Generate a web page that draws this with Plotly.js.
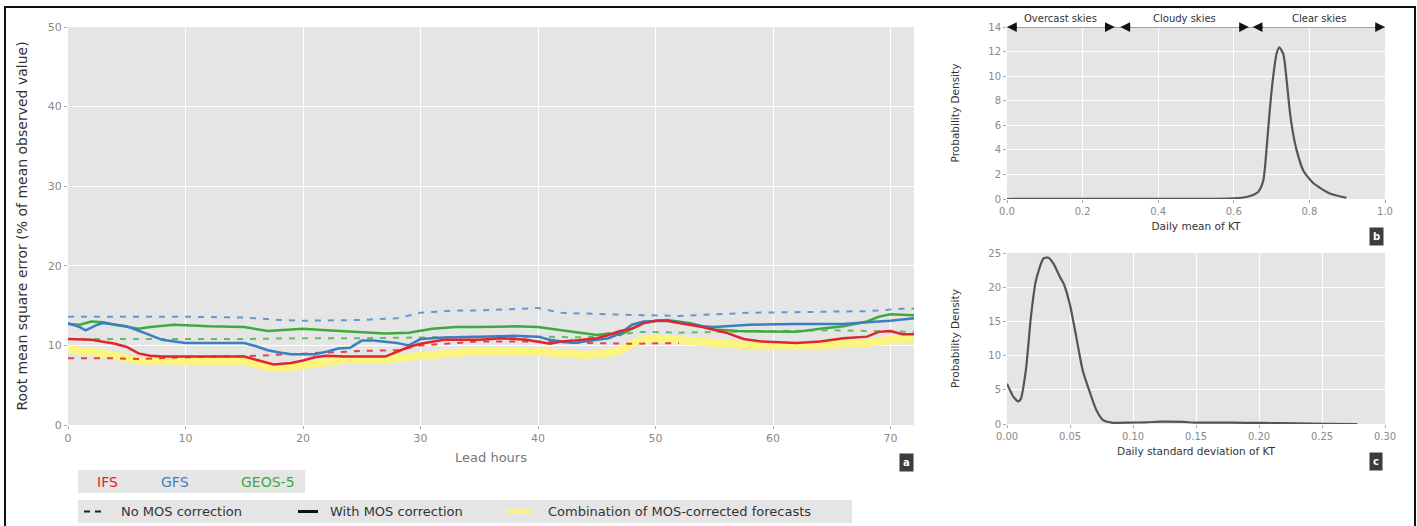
<!DOCTYPE html>
<html>
<head>
<meta charset="utf-8">
<script src="https://cdn.plot.ly/plotly-3.0.1.min.js"></script>
<style>html,body{margin:0;padding:0;background:#fff;}#chart{width:1417px;height:526px;}</style>
</head>
<body>
<div id="chart"></div>
<script>
// ---- Panel a: RMSE vs lead hours ----
const ifsMosHours = [0,2,4,5,6,7,8,12,15,16,17.5,19,20,21,22,23.5,25,27,28,29,30,32,35,37,39,41,42,43,45,46,47,48,49,50,51,52,54,56,57.5,59,62,64,66,68,69,70,71,72];
const ifsMos      = [10.8,10.7,10.2,9.8,9.0,8.7,8.6,8.6,8.6,8.2,7.6,7.8,8.1,8.5,8.7,8.6,8.6,8.6,9.2,9.8,10.2,10.7,10.7,10.9,10.7,10.2,10.5,10.6,10.9,11.3,11.8,12.1,12.8,13.1,13.1,12.8,12.3,11.6,10.8,10.5,10.3,10.5,10.9,11.1,11.7,11.8,11.4,11.4];
const ifsRawHours = [0,3,6,10,16,20,25,28,30,35,40,44,48,52];
const ifsRaw      = [8.4,8.4,8.3,8.5,8.7,9.0,9.3,9.4,10.0,10.5,10.5,10.3,10.2,10.3];

const gfsMosHours = [0,1,1.5,2.5,3,5,7,8,10,15,16,17,18,19,21,22,23,24,25,26,28,29,30,32,35,38,40,41,43,45,46,47,48,49,51,52,54,55,58,62,66,68,70,72];
const gfsMos      = [12.8,12.3,11.9,12.6,12.8,12.4,11.3,10.7,10.3,10.3,9.9,9.4,9.1,8.9,8.9,9.2,9.6,9.7,10.6,10.6,10.3,10.0,10.8,11.0,11.1,11.2,11.1,10.7,10.3,10.7,10.9,11.5,12.6,13.0,13.1,12.9,12.4,12.3,12.6,12.7,12.7,12.9,13.1,13.4];
const gfsRawHours = [0,5,10,15,18,20,25,28,30,33,35,40,42,46,52,58,63,68,71,72];
const gfsRaw      = [13.6,13.6,13.6,13.5,13.2,13.1,13.2,13.4,14.1,14.4,14.4,14.7,14.1,13.9,13.7,14.1,14.2,14.3,14.6,14.6];

const geosMosHours = [0,1,2,3,4,6,7,9,12,15,17,19,20,22,25,27,29,31,33,35,38,40,42,44,45,46,47,48,49,50,51,53,55,57,60,62,64,66,68,69,70,72];
const geosMos      = [12.7,12.6,13.0,12.9,12.6,12.1,12.3,12.6,12.4,12.3,11.8,12.0,12.1,11.9,11.7,11.5,11.6,12.1,12.3,12.3,12.4,12.3,11.9,11.5,11.3,11.5,11.3,12.1,12.8,13.1,13.2,12.8,12.0,11.8,11.7,11.7,12.1,12.4,13.0,13.6,13.9,13.8];
const geosRawHours = [0,5,10,15,20,25,30,35,40,44,47,49,52,55,60,65,70,72];
const geosRaw      = [10.8,10.8,10.8,10.8,10.9,10.9,11.0,11.1,11.1,11.0,11.4,11.7,11.6,11.7,11.8,11.9,11.7,11.7];

const comboHours = [0,3,6,10,15,17,18,20,22,24,27,30,33,35,40,42,44,46,47,48,49,50,52,54,56,58,62,64,66,68,70,72];
const combo      = [9.5,9.0,8.1,8.1,8.0,7.3,7.1,7.5,8.0,8.3,8.3,8.7,9.2,9.3,9.2,8.9,8.8,9.0,9.4,10.2,10.7,10.9,10.7,10.5,10.3,10.0,9.9,10.0,10.2,10.3,10.7,10.9];

// ---- Panel b: density of daily mean KT ----
const ktMean    = [0,0.1,0.2,0.3,0.4,0.5,0.55,0.6,0.62,0.643,0.665,0.678,0.687,0.695,0.704,0.713,0.72,0.731,0.74,0.748,0.757,0.766,0.784,0.81,0.854,0.898];
const ktMeanPdf = [0,0.01,0.01,0.01,0.01,0.01,0.02,0.05,0.1,0.25,0.6,1.5,4.2,7.2,9.9,11.8,12.35,11.8,9.6,7.2,5.3,4.0,2.3,1.3,0.45,0.1];

// ---- Panel c: density of daily std of KT ----
const ktStd    = [0,0.005,0.009,0.011,0.015,0.019,0.023,0.029,0.033,0.037,0.042,0.045,0.05,0.055,0.06,0.066,0.071,0.076,0.083,0.097,0.11,0.124,0.14,0.15,0.177,0.203,0.23,0.255,0.278];
const ktStdPdf = [5.9,4.0,3.3,3.7,7.9,15.7,21.0,24.2,24.3,23.4,21.5,20.5,17.4,12.7,7.9,4.5,2.0,0.6,0.2,0.2,0.25,0.35,0.3,0.2,0.2,0.15,0.08,0.03,0.0];

const skyLabels = ['Overcast skies','Cloudy skies','Clear skies'];
const skyRanges = [[0,0.285],[0.30,0.64],[0.65,1.0]];
const modelNames = ['IFS','GFS','GEOS-5'];
const styleNames = ['No MOS correction','With MOS correction','Combination of MOS-corrected forecasts'];

const RED='#e0262b', BLUE='#3a7fc4', GREEN='#3daa3d', YELLOW='#fbf47e';
const W=1417, H=526;
const px = x => x/W, py = y => 1 - y/H;

const traces = [
  {x:comboHours, y:combo, mode:'lines', line:{color:YELLOW, width:8}, xaxis:'x', yaxis:'y'},
  {x:geosRawHours, y:geosRaw, mode:'lines', line:{color:GREEN, width:2, dash:'6px,7px'}, opacity:0.75, xaxis:'x', yaxis:'y'},
  {x:gfsRawHours, y:gfsRaw, mode:'lines', line:{color:BLUE, width:2, dash:'6px,7px'}, opacity:0.75, xaxis:'x', yaxis:'y'},
  {x:ifsRawHours, y:ifsRaw, mode:'lines', line:{color:RED, width:2, dash:'6px,7px'}, opacity:0.85, xaxis:'x', yaxis:'y'},
  {x:geosMosHours, y:geosMos, mode:'lines', line:{color:GREEN, width:2.5}, xaxis:'x', yaxis:'y'},
  {x:gfsMosHours, y:gfsMos, mode:'lines', line:{color:BLUE, width:2.5}, xaxis:'x', yaxis:'y'},
  {x:ifsMosHours, y:ifsMos, mode:'lines', line:{color:RED, width:2.5}, xaxis:'x', yaxis:'y'},
  {x:ktMean, y:ktMeanPdf, mode:'lines', line:{color:'#555', width:2.2, shape:'spline', smoothing:0.6}, xaxis:'x2', yaxis:'y2'},
  {x:ktStd, y:ktStdPdf, mode:'lines', line:{color:'#555', width:2.2, shape:'spline', smoothing:0.6}, xaxis:'x3', yaxis:'y3'}
];

const tickFont = {family:'DejaVu Sans', size:11, color:'#8a8a8a'};
const smallTick = {family:'DejaVu Sans', size:10, color:'#8a8a8a'};
const baseAxis = {showgrid:true, gridcolor:'#ffffff', gridwidth:1, zeroline:false, showline:false,
                  ticks:'outside', ticklen:3, tickcolor:'#aaa', fixedrange:true};

const layout = {
  width:W, height:H, margin:{l:0,r:0,t:0,b:0},
  paper_bgcolor:'#ffffff', plot_bgcolor:'#e5e5e5', showlegend:false,
  font:{family:'DejaVu Sans', color:'#444'},
  xaxis:Object.assign({}, baseAxis, {domain:[px(68),px(914)], range:[0,72], tickvals:[0,10,20,30,40,50,60,70], tickfont:tickFont,
        title:{text:'Lead hours', font:{family:'DejaVu Sans', size:13, color:'#777'}, standoff:8}, anchor:'y'}),
  yaxis:Object.assign({}, baseAxis, {domain:[py(425),py(27)], range:[0,50], tickvals:[0,10,20,30,40,50], tickfont:tickFont,
        title:{text:'Root mean square error (% of mean observed value)', font:{family:'DejaVu Sans', size:14, color:'#333'}, standoff:16}, anchor:'x'}),
  xaxis2:Object.assign({}, baseAxis, {domain:[px(1007),px(1385)], range:[0,1], tickvals:[0,0.2,0.4,0.6,0.8,1.0], ticktext:['0.0','0.2','0.4','0.6','0.8','1.0'], tickfont:smallTick,
        title:{text:'Daily mean of KT', font:{family:'DejaVu Sans', size:10.5, color:'#333'}, standoff:6}, anchor:'y2'}),
  yaxis2:Object.assign({}, baseAxis, {domain:[py(199),py(27)], range:[0,14], tickvals:[0,2,4,6,8,10,12,14], tickfont:smallTick,
        title:{text:'Probability Density', font:{family:'DejaVu Sans', size:10.5, color:'#333'}, standoff:26}, anchor:'x2'}),
  xaxis3:Object.assign({}, baseAxis, {domain:[px(1007),px(1385)], range:[0,0.3], tickvals:[0,0.05,0.1,0.15,0.2,0.25,0.3], ticktext:['0.00','0.05','0.10','0.15','0.20','0.25','0.30'], tickfont:smallTick,
        title:{text:'Daily standard deviation of KT', font:{family:'DejaVu Sans', size:10.5, color:'#333'}, standoff:6}, anchor:'y3'}),
  yaxis3:Object.assign({}, baseAxis, {domain:[py(424),py(253)], range:[0,25], tickvals:[0,5,10,15,20,25], tickfont:smallTick,
        title:{text:'Probability Density', font:{family:'DejaVu Sans', size:10.5, color:'#333'}, standoff:26}, anchor:'x3'}),
  shapes:[], annotations:[]
};

// figure frame
layout.shapes.push({type:'rect', xref:'paper', yref:'paper', x0:px(5), x1:px(1415), y0:py(535), y1:py(7), line:{color:'#111', width:2}, layer:'above'});

// sky-class arrows on panel b
layout.shapes.push({type:'line', xref:'x2', yref:'y2', x0:0, x1:1, y0:14, y1:14, line:{color:'#888', width:1.5}});
skyRanges.forEach((r, i) => {
  const mid = (r[0]+r[1])/2;
  layout.annotations.push({xref:'x2', yref:'y2', x:mid, y:14, text:skyLabels[i], showarrow:false, xanchor:'center', yanchor:'bottom', yshift:1,
    font:{family:'DejaVu Sans', size:10, color:'#333'}});
  [[r[0], r[0]+0.03],[r[1], r[1]-0.03]].forEach(p => {
    layout.annotations.push({xref:'x2', yref:'y2', axref:'x2', ayref:'y2', x:p[0], y:14, ax:p[1], ay:14, text:'',
      showarrow:true, arrowhead:2, arrowsize:1.3, arrowwidth:1.5, arrowcolor:'#111'});
  });
});

// panel tags
[['a',906,462],['b',1376,236],['c',1376,461]].forEach(t => {
  layout.annotations.push({xref:'paper', yref:'paper', x:px(t[1]), y:py(t[2]), xanchor:'center', yanchor:'middle', text:'<b>'+t[0]+'</b>', showarrow:false,
    bgcolor:'#3c3c3c', borderpad:3, font:{family:'DejaVu Sans', size:10, color:'#fff'}});
});

// legend 1: model names
layout.shapes.push({type:'rect', xref:'paper', yref:'paper', x0:px(78), x1:px(305), y0:py(493), y1:py(470), fillcolor:'#e5e5e5', line:{width:0}});
[[RED,107],[BLUE,175],[GREEN,268]].forEach((c, i) => {
  layout.annotations.push({xref:'paper', yref:'paper', x:px(c[1]), y:py(481.5), xanchor:'center', yanchor:'middle', text:modelNames[i], showarrow:false,
    font:{family:'DejaVu Sans', size:14, color:c[0]}});
});

// legend 2: line styles
layout.shapes.push({type:'rect', xref:'paper', yref:'paper', x0:px(78), x1:px(852), y0:py(523), y1:py(500), fillcolor:'#e5e5e5', line:{width:0}});
layout.shapes.push({type:'line', xref:'paper', yref:'paper', x0:px(84), x1:px(106), y0:py(511.5), y1:py(511.5), line:{color:'#222', width:2, dash:'6px,5px'}});
layout.shapes.push({type:'line', xref:'paper', yref:'paper', x0:px(298), x1:px(318), y0:py(511.5), y1:py(511.5), line:{color:'#111', width:3}});
layout.shapes.push({type:'line', xref:'paper', yref:'paper', x0:px(507), x1:px(532), y0:py(511.5), y1:py(511.5), line:{color:YELLOW, width:5}});
[[styleNames[0],119],[styleNames[1],328],[styleNames[2],546]].forEach(s => {
  layout.annotations.push({xref:'paper', yref:'paper', x:px(s[1]), y:py(511.5), xanchor:'left', yanchor:'middle', text:s[0], showarrow:false,
    font:{family:'DejaVu Sans', size:13, color:'#333'}});
});

Plotly.newPlot('chart', traces, layout, {displayModeBar:false, staticPlot:true});
</script>
</body>
</html>
